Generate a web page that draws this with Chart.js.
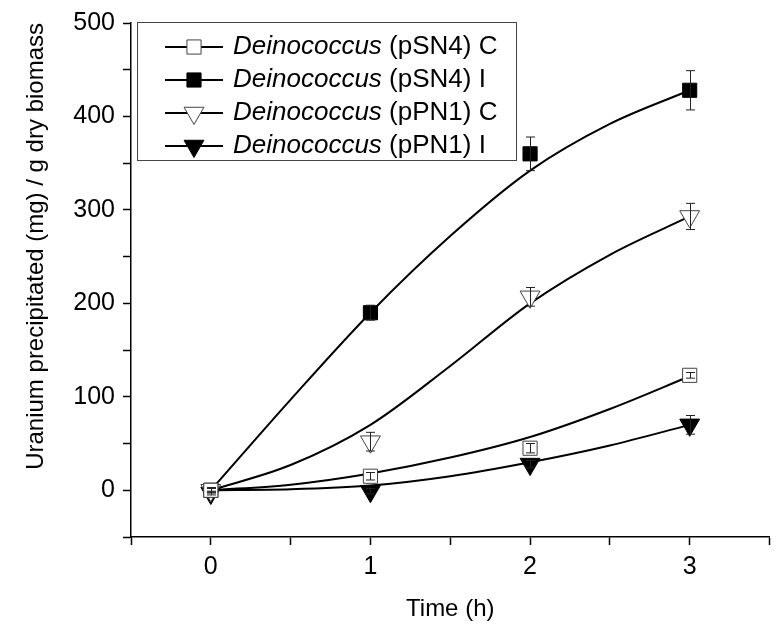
<!DOCTYPE html>
<html>
<head>
<meta charset="utf-8">
<script src="https://cdn.jsdelivr.net/npm/chart.js@4.4.0/dist/chart.umd.min.js"></script>
<style>
  html, body { margin: 0; padding: 0; background: #fff; }
  #wrap { width: 782px; height: 625px; }
</style>
</head>
<body>
<div id="wrap"><canvas id="uChart"></canvas></div>
<script>
// Uranium precipitated by Deinococcus strains over time

const timePoints = [0, 1, 2, 3];
const fitTimes = [0, 0.5, 1, 1.5, 2, 2.5, 3];

const legendNames = [' (pSN4) C', ' (pSN4) I', ' (pPN1) C', ' (pPN1) I'];

// measured points (mg / g dry biomass) and error bars
const sn4C = [0, 15, 45, 123];
const sn4CErr = [2, 4, 5, 3];
const sn4I = [0, 190, 360, 428];
const sn4IErr = [3, 8, 18, 21];
const pn1C = [0, 52, 207, 293];
const pn1CErr = [2, 10, 10, 14];
const pn1I = [-3, -1, 28, 70];
const pn1IErr = [2, 3, 4, 10];

// fitted curves
const sn4CFit = [0, 6, 18, 35, 57, 87, 122];
const sn4IFit = [0, 97, 190, 272, 342, 392, 428];
const pn1CFit = [0, 27, 70, 133, 200, 252, 293];
const pn1IFit = [0, 1, 5, 15, 30, 48, 70];

const FONT = "'Liberation Sans', Arial, sans-serif";

const markerStyles = [
    { style: 'rect', rotation: 0, r: 10, fill: '#ffffff', stroke: '#444444' },
    { style: 'rect', rotation: 0, r: 10, fill: '#000000', stroke: '#000000' },
    { style: 'triangle', rotation: 180, r: 11.5, fill: '#ffffff', stroke: '#444444' },
    { style: 'triangle', rotation: 180, r: 11.5, fill: '#000000', stroke: '#000000' }
];

function toXY(xs, ys) {
    return xs.map((x, i) => ({ x: x, y: ys[i] }));
}

function fitLine(values) {
    return {
        type: 'line',
        data: toXY(fitTimes, values),
        borderColor: '#000',
        borderWidth: 2,
        pointRadius: 0,
        cubicInterpolationMode: 'monotone',
        order: 2
    };
}

function markerSet(values, errs, idx) {
    const m = markerStyles[idx];
    return {
        type: 'line',
        showLine: false,
        data: toXY(timePoints, values),
        errors: errs,
        pointStyle: m.style,
        rotation: m.rotation,
        pointRadius: m.r,
        pointHoverRadius: m.r,
        pointBackgroundColor: m.fill,
        pointBorderColor: m.stroke,
        pointBorderWidth: 1,
        order: 1
    };
}

// vertical error bars with small caps
const errorBars = {
    id: 'errorBars',
    afterDatasetsDraw(chart) {
        const ctx = chart.ctx;
        const xs = chart.scales.x, ys = chart.scales.y;
        ctx.save();
        ctx.strokeStyle = '#222';
        ctx.lineWidth = 1;
        chart.data.datasets.forEach(ds => {
            if (!ds.errors) return;
            ds.data.forEach((p, i) => {
                const e = ds.errors[i];
                const px = Math.round(xs.getPixelForValue(p.x)) + 0.5;
                const top = ys.getPixelForValue(p.y + e);
                const bot = ys.getPixelForValue(p.y - e);
                ctx.beginPath();
                ctx.moveTo(px, top); ctx.lineTo(px, bot);
                ctx.moveTo(px - 4.5, top); ctx.lineTo(px + 4.5, top);
                ctx.moveTo(px - 4.5, bot); ctx.lineTo(px + 4.5, bot);
                ctx.stroke();
            });
        });
        ctx.restore();
    }
};

function drawMarker(ctx, m, x, y) {
    const r = m.r;
    ctx.beginPath();
    if (m.style === 'rect') {
        const s = r * Math.SQRT1_2;
        ctx.rect(x - s, y - s, 2 * s, 2 * s);
    } else {
        ctx.moveTo(x, y + r);
        ctx.lineTo(x - r * 0.866, y - r * 0.5);
        ctx.lineTo(x + r * 0.866, y - r * 0.5);
        ctx.closePath();
    }
    ctx.fillStyle = m.fill;
    ctx.fill();
    ctx.strokeStyle = m.stroke;
    ctx.lineWidth = 1;
    ctx.stroke();
}

// boxed legend with italic genus name
const boxLegend = {
    id: 'boxLegend',
    afterDraw(chart) {
        const ctx = chart.ctx;
        const left = 137, top = 22, w = 379, h = 138, row = 33;
        ctx.save();
        ctx.strokeStyle = '#444';
        ctx.lineWidth = 1;
        ctx.strokeRect(left + 0.5, top + 0.5, w, h);
        legendNames.forEach((name, i) => {
            const y = top + 25 + i * row;
            ctx.strokeStyle = '#000';
            ctx.lineWidth = 2;
            ctx.beginPath();
            ctx.moveTo(left + 28, y); ctx.lineTo(left + 86, y);
            ctx.stroke();
            drawMarker(ctx, markerStyles[i], left + 57, y);
            ctx.fillStyle = '#000';
            ctx.textBaseline = 'middle';
            ctx.font = 'italic 26px ' + FONT;
            ctx.fillText('Deinococcus', left + 96, y);
            const wItal = ctx.measureText('Deinococcus').width;
            ctx.font = '26px ' + FONT;
            ctx.fillText(name, left + 96 + wItal, y);
        });
        ctx.restore();
    }
};

new Chart(document.getElementById('uChart'), {
    data: {
        datasets: [
            markerSet(sn4C, sn4CErr, 0),
            markerSet(sn4I, sn4IErr, 1),
            markerSet(pn1C, pn1CErr, 2),
            markerSet(pn1I, pn1IErr, 3),
            fitLine(sn4CFit),
            fitLine(sn4IFit),
            fitLine(pn1CFit),
            fitLine(pn1IFit)
        ]
    },
    options: {
        responsive: true,
        maintainAspectRatio: false,
        animation: false,
        layout: { padding: { top: 22, right: 7, left: 0, bottom: 0 } },
        plugins: {
            legend: { display: false },
            tooltip: { enabled: false }
        },
        scales: {
            x: {
                type: 'linear',
                min: -0.5,
                max: 3.5,
                afterFit: s => { s.height = 88; },
                grid: { drawOnChartArea: false, tickLength: 8, color: '#000', tickWidth: 1.5 },
                border: { color: '#000', width: 1.5 },
                ticks: {
                    stepSize: 0.5,
                    autoSkip: false,
                    maxRotation: 0,
                    color: '#000',
                    padding: 7,
                    font: { family: FONT, size: 25 },
                    callback: v => Number.isInteger(v) ? v : ''
                },
                title: {
                    display: true,
                    text: 'Time (h)',
                    color: '#000',
                    font: { family: FONT, size: 24 },
                    padding: { top: 0, bottom: 1 }
                }
            },
            y: {
                type: 'linear',
                min: -50,
                max: 500,
                afterFit: s => { s.width = 131; },
                grid: { drawOnChartArea: false, tickLength: 8, color: '#000', tickWidth: 1.5 },
                border: { color: '#000', width: 1.5 },
                ticks: {
                    stepSize: 50,
                    autoSkip: false,
                    color: '#000',
                    padding: 8,
                    font: { family: FONT, size: 25 },
                    callback: v => v % 100 === 0 ? v : ''
                },
                title: {
                    display: true,
                    align: 'end',
                    text: 'Uranium precipitated (mg) / g dry biomass',
                    color: '#000',
                    font: { family: FONT, size: 24 },
                    padding: { top: 22, bottom: 0 }
                }
            }
        }
    },
    plugins: [errorBars, boxLegend]
});
</script>
</body>
</html>
